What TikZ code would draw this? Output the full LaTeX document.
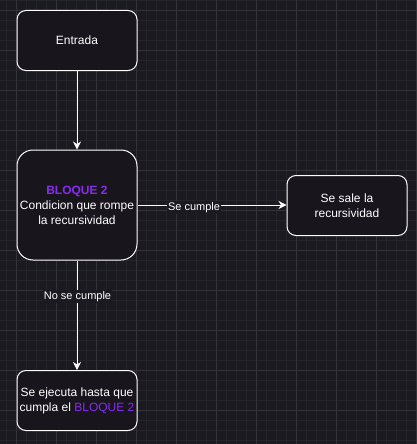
\documentclass[tikz,border=0pt]{standalone}
\usepackage{fontspec}
\setmainfont{Liberation Sans}
\usetikzlibrary{arrows.meta}
\definecolor{bg}{HTML}{1B1A21}
\definecolor{boxfill}{HTML}{18151D}
\definecolor{gridminor}{HTML}{25242B}
\definecolor{gridmajor}{HTML}{34333A}
\definecolor{purp}{HTML}{8A2BF2}
\tikzset{
  box/.style={draw=white, line width=1pt, fill=boxfill, rounded corners=9pt,
    minimum width=120pt, minimum height=60pt, align=center, text=white,
    font=\fontsize{12}{15}\selectfont, inner sep=0pt},
  conn/.style={draw=white, line width=1pt, -{Stealth[length=8pt,width=8pt,inset=2.5pt]}},
  lbl/.style={fill=bg, text=white, font=\fontsize{11}{13}\selectfont, inner sep=1pt}
}
\begin{document}
\begin{tikzpicture}[x=1pt,y=-1pt]
\fill[bg] (0,0) rectangle (417,444);
\useasboundingbox (0,0) rectangle (417,444);
% grid
\foreach \i in {0,...,41} {\draw[gridminor, line width=0.5pt] (6.7+10*\i,0) -- (6.7+10*\i,444);}
\foreach \j in {0,...,44} {\draw[gridminor, line width=0.5pt] (0,10*\j) -- (417,10*\j);}
\foreach \i in {0,...,10} {\draw[gridmajor, line width=0.7pt] (16.7+40*\i,0) -- (16.7+40*\i,444);}
\foreach \j in {0,...,11} {\draw[gridmajor, line width=0.7pt] (0,10+40*\j) -- (417,10+40*\j);}
% nodes
\node[box] (entrada) at (77,40.5) {Entrada};
\node[box, minimum height=110pt, rounded corners=16pt] (bloque) at (77,205)
  {\textcolor{purp}{\textbf{BLOQUE 2}}\\Condicion que rompe\\la recursividad};
\node[box] (sale) at (347,205.5) {Se sale la\\recursividad};
\node[box] (ejec) at (77,400.5) {Se ejecuta hasta que\\cumpla el \textcolor{purp}{BLOQUE 2}};
% connectors
\draw[conn] (entrada) -- (bloque);
\draw[conn] (bloque.east) -- (sale.west |- bloque.east);
\draw[conn] (bloque) -- (ejec);
\node[lbl] (l1) at (194,207.5) {Se cumple};
\node[lbl] (l2) at (77.5,296.5) {No se cumple};
\end{tikzpicture}
\end{document}
